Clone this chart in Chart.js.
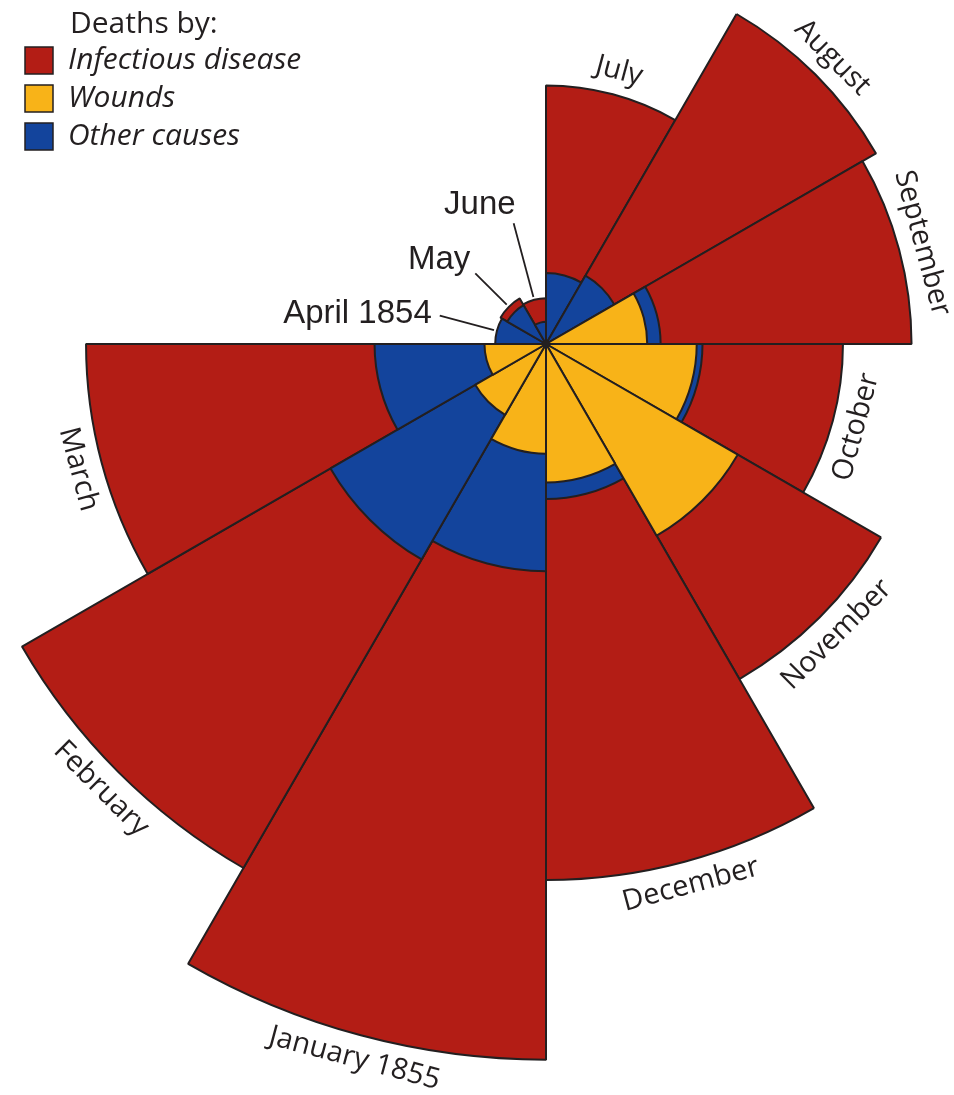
<!DOCTYPE html>
<html>
<head>
<meta charset="utf-8">
<title>Causes of mortality, April 1854 - March 1855</title>
<script src="https://cdn.jsdelivr.net/npm/chart.js@4/dist/chart.umd.min.js"></script>
<style>
  html, body { margin: 0; padding: 0; background: #fff; }
  #wrap { position: relative; width: 954px; height: 1095px; }
</style>
</head>
<body>
<div id="wrap"><canvas id="rose"></canvas></div>
<script>
// Months, starting at 9 o'clock and going clockwise
const months = ['April 1854', 'May', 'June', 'July', 'August', 'September',
                'October', 'November', 'December', 'January 1855', 'February', 'March'];

const disease = [1.4, 6.2, 4.7, 150, 326, 300, 198, 336, 645, 1150, 822, 475];
const wounds  = [0, 0, 0, 0, 0, 23, 51, 110, 43, 27, 15, 8.5];
const other   = [5.8, 4.5, 1.1, 11.3, 14, 29.5, 55, 42.8, 54, 116, 139, 66];

const legendLabels = ['Infectious disease', 'Wounds', 'Other causes'];
const colors = { disease: '#B31D15', wounds: '#F8B318', other: '#13449C' };
const ink = '#231f20';

// radius is proportional to sqrt(value), so areas carry the numbers
const toRadius = arr => arr.map(v => Math.sqrt(v));

// small months get a leader line instead of a curved label
const leaderMonths = { 0: { len: 110, dx: -8, dy: -2 }, 1: { len: 100, dx: -5, dy: -13 }, 2: { len: 125, dx: 2, dy: -18 } };

const labelPlugin = {
    id: 'roseLabels',
    afterDraw(chart) {
        const ctx = chart.ctx;
        const scale = chart.scales.r;
        const cx = scale.xCenter, cy = scale.yCenter;
        const start = scale.options.startAngle;
        const step = 360 / months.length;

        ctx.save();
        ctx.fillStyle = ink;
        ctx.strokeStyle = ink;

        // dark hub where all the wedge edges meet
        ctx.beginPath();
        ctx.arc(cx, cy, 3.5, 0, Math.PI * 2);
        ctx.fill();

        months.forEach((m, i) => {
            const clock = (start + step * i + step / 2) % 360;
            const rad = clock * Math.PI / 180;
            const top = Math.max(disease[i], wounds[i], other[i]);
            const rOut = scale.getDistanceFromCenterForValue(Math.sqrt(top));
            const at = r => [cx + r * Math.sin(rad), cy - r * Math.cos(rad)];

            if (leaderMonths[i]) {
                const ld = leaderMonths[i];
                const p0 = at(rOut + 3);
                const p1 = at(ld.len);
                ctx.lineWidth = 1.8;
                ctx.beginPath();
                ctx.moveTo(p0[0], p0[1]);
                ctx.lineTo(p1[0], p1[1]);
                ctx.stroke();
                ctx.font = '33px "Liberation Sans", Arial, sans-serif';
                ctx.textAlign = 'right';
                ctx.textBaseline = 'middle';
                ctx.fillText(m, p1[0] + ld.dx, p1[1] + ld.dy);
                return;
            }

            const p = at(rOut + 24);
            let rot = clock;
            if (clock > 90 && clock < 270) rot = clock - 180;
            ctx.save();
            ctx.translate(p[0], p[1]);
            ctx.rotate(rot * Math.PI / 180);
            ctx.font = '29px "Open Sans", sans-serif';
            ctx.textAlign = 'center';
            ctx.textBaseline = 'middle';
            ctx.fillText(m, 0, 0);
            ctx.restore();
        });

        // legend
        ctx.font = '30px "Open Sans", sans-serif';
        ctx.textAlign = 'left';
        ctx.textBaseline = 'middle';
        ctx.fillText('Deaths by:', 70, 24);
        const swatch = [colors.disease, colors.wounds, colors.other];
        legendLabels.forEach((lab, k) => {
            const y = 60 + k * 38;
            ctx.fillStyle = swatch[k];
            ctx.fillRect(25, y - 13, 28, 27);
            ctx.lineWidth = 1.5;
            ctx.strokeRect(25, y - 13, 28, 27);
            ctx.fillStyle = ink;
            ctx.font = 'italic 30px "Open Sans", sans-serif';
            ctx.fillText(lab, 68, y);
        });
        ctx.restore();
    }
};

const ctx = document.getElementById('rose').getContext('2d');
const chart = new Chart(ctx, {
    type: 'polarArea',
    data: {
        labels: months,
        datasets: [
            // first dataset is painted last, so wounds sit on top
            { label: 'Wounds', data: toRadius(wounds), backgroundColor: colors.wounds },
            { label: 'Other causes', data: toRadius(other), backgroundColor: colors.other },
            { label: 'Infectious disease', data: toRadius(disease), backgroundColor: colors.disease }
        ].map(ds => Object.assign(ds, { borderColor: ink, borderWidth: 2, clip: false }))
    },
    options: {
        responsive: true,
        maintainAspectRatio: false,
        animation: false,
        layout: { padding: { left: 202, right: 64, top: 0, bottom: 407 } },
        scales: {
            r: {
                display: false,
                min: 0,
                max: 16.3,
                startAngle: 270
            }
        },
        plugins: {
            legend: { display: false },
            tooltip: { enabled: false }
        }
    },
    plugins: [labelPlugin]
});
</script>
</body>
</html>
